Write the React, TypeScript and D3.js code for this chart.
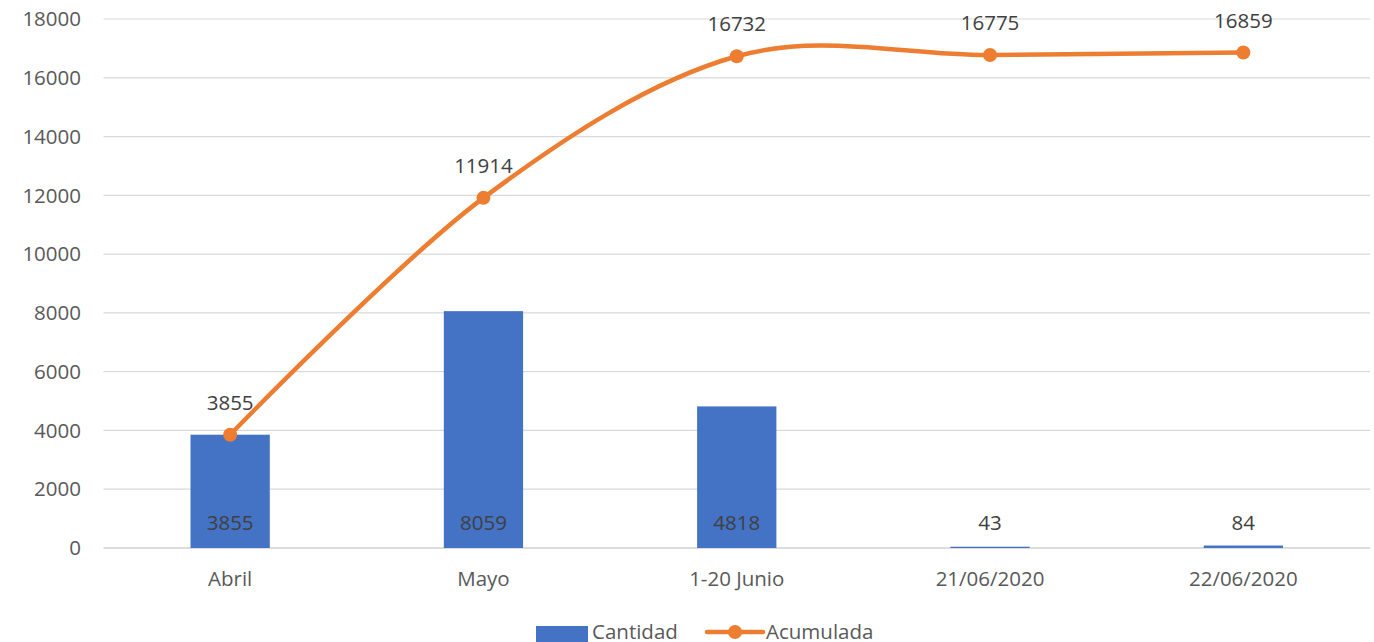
import React from "react";
import * as d3 from "d3";

const categories = ["Abril", "Mayo", "1-20 Junio", "21/06/2020", "22/06/2020"];
const cantidad = [3855, 8059, 4818, 43, 84];
const acumulada = [3855, 11914, 16732, 16775, 16859];
const yTicks = [0, 2000, 4000, 6000, 8000, 10000, 12000, 14000, 16000, 18000];

const W = 1374;
const H = 642;
const FONT = "'Open Sans', 'Liberation Sans', Arial, sans-serif";
const TXT = "#595959";
const FS = 20.5;

export default function App() {
  const x = d3.scaleBand<string>().domain(categories).range([103.5, 1370]).paddingInner(0).paddingOuter(0);
  const y = d3.scaleLinear().domain([0, 18000]).range([548, 19]);
  const barW = x.bandwidth() * 0.313;
  const cx = (c: string) => (x(c) as number) + x.bandwidth() / 2;
  const linePts: [number, number][] = categories.map((c, i) => [cx(c), y(acumulada[i])]);
  const line = d3.line().curve(d3.curveCardinal.tension(0))(linePts) || "";

  return (
    <svg width={W} height={H} style={{ position: "absolute", left: 0, top: 0, background: "#fff" }} fontFamily={FONT}>
      {yTicks.map((t) => (
        <g key={t}>
          <line x1={103.5} x2={1370} y1={y(t)} y2={y(t)} stroke={t === 0 ? "#d0d0d0" : "#d9d9d9"} strokeWidth={t === 0 ? 1.5 : 1.2} />
          <text x={81} y={y(t)} dy="0.35em" textAnchor="end" fontSize={FS} fill={TXT}>{t}</text>
        </g>
      ))}
      {categories.map((c, i) => (
        <g key={c}>
          <rect x={cx(c) - barW / 2} y={y(cantidad[i])} width={barW} height={y(0) - y(cantidad[i])} fill="#4472C4" />
          <text x={cx(c)} y={523} dy="0.35em" textAnchor="middle" fontSize={FS} fill="#404040">{cantidad[i]}</text>
          <text x={cx(c)} y={579} dy="0.35em" textAnchor="middle" fontSize={FS} fill={TXT}>{c}</text>
        </g>
      ))}
      <path d={line} fill="none" stroke="#ED7D31" strokeWidth={4.5} strokeLinecap="round" />
      {categories.map((c, i) => (
        <g key={c + "p"}>
          <circle cx={cx(c)} cy={y(acumulada[i])} r={7} fill="#ED7D31" />
          <text x={cx(c)} y={y(acumulada[i]) - 32} dy="0.35em" textAnchor="middle" fontSize={FS} fill="#404040">{acumulada[i]}</text>
        </g>
      ))}
      <g>
        <rect x={536} y={626} width={52} height={16} fill="#4472C4" />
        <text x={592} y={632} dy="0.35em" fontSize={FS} fill={TXT}>Cantidad</text>
        <line x1={707} x2={763} y1={632} y2={632} stroke="#ED7D31" strokeWidth={4.5} strokeLinecap="round" />
        <circle cx={735} cy={632} r={7} fill="#ED7D31" />
        <text x={766} y={632} dy="0.35em" fontSize={FS} fill={TXT}>Acumulada</text>
      </g>
    </svg>
  );
}
